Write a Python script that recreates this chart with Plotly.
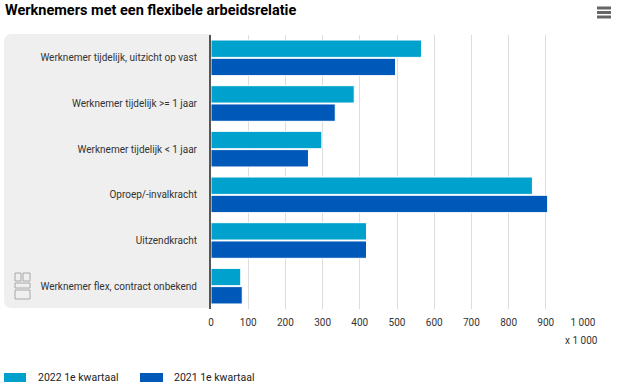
import plotly.graph_objects as go

categories = [
    "Werknemer tijdelijk, uitzicht op vast",
    "Werknemer tijdelijk >= 1 jaar",
    "Werknemer tijdelijk < 1 jaar",
    "Oproep/-invalkracht",
    "Uitzendkracht",
    "Werknemer flex, contract onbekend",
]
series_names = ["2022 1e kwartaal", "2021 1e kwartaal"]
values_2022 = [566, 385, 298, 864, 418, 80]
values_2021 = [496, 334, 262, 905, 418, 84]
tick_vals = [0, 100, 200, 300, 400, 500, 600, 700, 800, 900, 1000]
colors = ["#00a1cd", "#0058b8"]

W, H = 619, 389
ML, MR, MT, MB = 211, 36, 35, 80

fig = go.Figure()
for name, vals, col in zip(series_names, [values_2022, values_2021], colors):
    fig.add_trace(go.Bar(
        y=categories, x=vals, name=name, orientation="h",
        marker=dict(color=col, line=dict(color="white", width=1)),
        showlegend=False,
    ))

font = "Roboto"

def px_x(p):
    return (p - ML) / (W - ML - MR)

def px_y(p):
    return 1 - (p - MT) / (H - MT - MB)

def P(x, y):
    return f"{px_x(x)},{px_y(y)}"

shapes = []
xa, xb = 4, 211
ya, yb = 34, 308
rad = 8
path = (f"M {P(xa+rad, ya)} L {P(xb, ya)} L {P(xb, yb)} L {P(xa+rad, yb)} "
        f"Q {P(xa, yb)} {P(xa, yb-rad)} L {P(xa, ya+rad)} Q {P(xa, ya)} {P(xa+rad, ya)} Z")
shapes.append(dict(type="path", path=path, xref="paper", yref="paper",
                   fillcolor="#efefef", line=dict(width=0), layer="below"))

# hamburger icon
for yy in [8, 12.5, 17]:
    shapes.append(dict(type="line", xref="paper", yref="paper",
                       x0=px_x(597), x1=px_x(611), y0=px_y(yy), y1=px_y(yy),
                       line=dict(color="#666666", width=3)))

# simple CBS logo approximation
logo_col = "#a8a8a8"
for (ax0, ay0, ax1, ay1) in [(15, 273, 21, 281), (23, 273, 30, 281),
                             (15, 283, 30, 288), (15, 290, 30, 299)]:
    shapes.append(dict(type="rect", xref="paper", yref="paper",
                       x0=px_x(ax0), x1=px_x(ax1), y0=px_y(ay0), y1=px_y(ay1),
                       line=dict(color=logo_col, width=1)))

annotations = [dict(text="x 1 000", xref="paper", yref="paper",
                    x=px_x(600), xanchor="right", y=px_y(340), yanchor="middle",
                    showarrow=False, font=dict(size=10, color="#333333"))]

# legend (drawn manually to match wide rectangular keys)
legend_x = [(4, 26, 36), (140, 163, 172)]
for (lx0, lx1, tx), name, col in zip(legend_x, series_names, colors):
    shapes.append(dict(type="rect", xref="paper", yref="paper",
                       x0=px_x(lx0), x1=px_x(lx1), y0=px_y(373), y1=px_y(382),
                       fillcolor=col, line=dict(width=0)))
    annotations.append(dict(text=name, xref="paper", yref="paper",
                            x=px_x(tx), xanchor="left", y=px_y(377.5), yanchor="middle",
                            showarrow=False, font=dict(size=10.5, color="#222222")))

fig.update_layout(
    width=W, height=H,
    margin=dict(l=ML, r=MR, t=MT, b=MB, autoexpand=False),
    paper_bgcolor="white", plot_bgcolor="white",
    barmode="group", bargap=0.2, bargroupgap=0.05,
    separators=", ",
    showlegend=False,
    font=dict(family=font, size=10, color="#333333"),
    title=dict(text="Werknemers met een flexibele arbeidsrelatie",
               x=5 / W, xanchor="left", y=1 - 10 / H, yanchor="middle",
               pad=dict(l=0, r=0, t=0, b=0),
               font=dict(family=font, size=14.5, color="#000000", weight="bold")),
    xaxis=dict(range=[0, 1000], tickvals=tick_vals, tickformat=",d",
               showgrid=True, gridcolor="#dddddd", gridwidth=1,
               zeroline=False, showline=False, ticks="", automargin=False,
               ticklabelstandoff=6,
               tickfont=dict(size=10, color="#333333"), fixedrange=True),
    yaxis=dict(autorange="reversed", showline=True, linecolor="#555555",
               linewidth=2, ticks="", ticklabelstandoff=10, automargin=False,
               tickfont=dict(size=10, color="#333333"), fixedrange=True),
    shapes=shapes,
    annotations=annotations,
)

fig.write_html("out.html", config={"displayModeBar": False},
               post_script="document.body.style.margin='0';")
